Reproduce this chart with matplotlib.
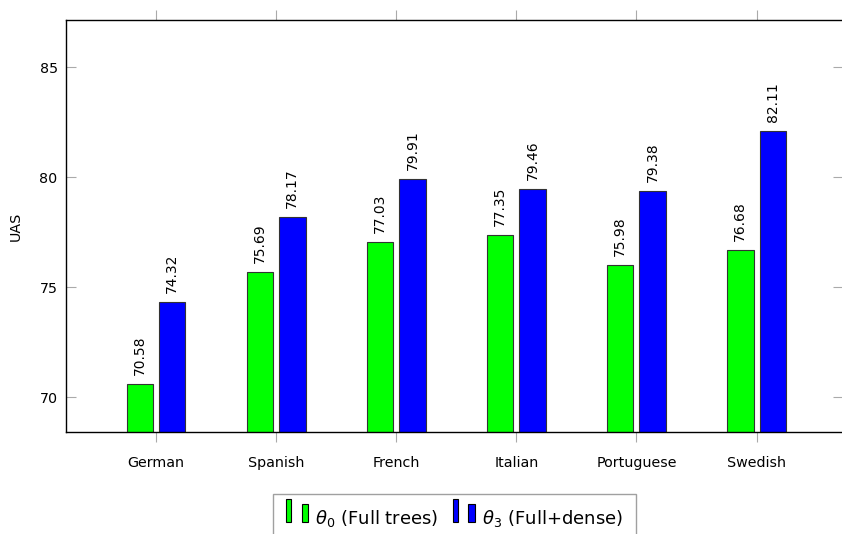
import matplotlib
matplotlib.use("Agg")
import matplotlib.pyplot as plt
import numpy as np
from matplotlib.patches import Rectangle
from matplotlib.legend_handler import HandlerBase

languages = ["German", "Spanish", "French", "Italian", "Portuguese", "Swedish"]
theta0 = [70.58, 75.69, 77.03, 77.35, 75.98, 76.68]
theta3 = [74.32, 78.17, 79.91, 79.46, 79.38, 82.11]
series_names = [r"$\theta_0$ (Full trees)", r"$\theta_3$ (Full+dense)"]
colors = ["#00ff00", "#0000ff"]
yticks = [70, 75, 80, 85]


class TwoBarHandler(HandlerBase):
    """Legend key drawn as two small bars of different heights."""

    def create_artists(self, legend, orig_handle, xdescent, ydescent,
                       width, height, fontsize, trans):
        fc = orig_handle.get_facecolor()
        y0 = -ydescent + 0.12 * height
        r1 = Rectangle((-xdescent, y0), 0.22 * width, 1.8 * height,
                       facecolor=fc, edgecolor="black", linewidth=0.8,
                       transform=trans)
        r2 = Rectangle((-xdescent + 0.7 * width, y0), 0.3 * width,
                       1.4 * height, facecolor=fc, edgecolor="black",
                       linewidth=0.8, transform=trans)
        return [r1, r2]


fig = plt.figure(figsize=(8.42, 5.34), dpi=100)
ax = fig.add_axes([66 / 842, 102 / 534, 777 / 842, 412 / 534])

x = np.arange(len(languages))
width = 0.22
offset = 0.135
bars0 = ax.bar(x - offset, theta0, width, color=colors[0], edgecolor="#333333",
               linewidth=0.8)
bars1 = ax.bar(x + offset, theta3, width, color=colors[1], edgecolor="#333333",
               linewidth=0.8)

for bars, vals in ((bars0, theta0), (bars1, theta3)):
    for b, v in zip(bars, vals):
        ax.annotate(f"{v:.2f}", (b.get_x() + b.get_width() / 2, v),
                    xytext=(0, 6.5), textcoords="offset points",
                    rotation=90, ha="center", va="bottom", fontsize=10)

ax.set_xlim(-0.75, 5.72)
ax.set_ylim(68.41, 87.14)
ax.set_yticks(yticks)
ax.set_xticks(x)
ax.set_xticklabels(languages, fontsize=10.3)
ax.tick_params(axis="y", direction="in", length=7, color="#aaaaaa",
               labelsize=10.3, right=True, pad=6)
ax.tick_params(axis="x", direction="out", length=7, color="#aaaaaa",
               top=True, pad=10)
ax.set_ylabel("UAS", fontsize=10.3, labelpad=12)
for s in ax.spines.values():
    s.set_linewidth(1.0)
    s.set_color("black")

proxies = [Rectangle((0, 0), 1, 1, facecolor=c) for c in colors]
leg = fig.legend(handles=proxies, labels=series_names,
                 loc="upper center", bbox_to_anchor=(454.5 / 842, 40 / 534),
                 borderaxespad=0.0,
                 ncol=2, fontsize=13, frameon=True, fancybox=False,
                 edgecolor="#888888", handler_map={Rectangle: TwoBarHandler()},
                 handlelength=1.22, handletextpad=0.39, columnspacing=0.8,
                 borderpad=0.75)
leg.get_frame().set_linewidth(1.0)

fig.savefig("out.png", dpi=100)
